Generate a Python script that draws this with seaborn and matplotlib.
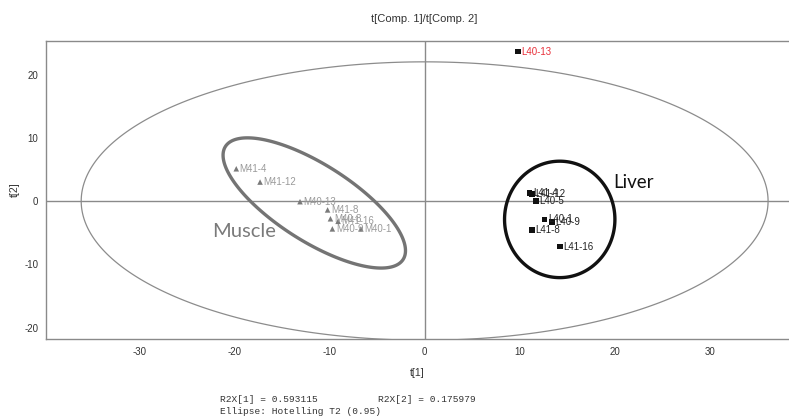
import numpy as np
import pandas as pd
import matplotlib
matplotlib.use("Agg")
import matplotlib.pyplot as plt
from matplotlib.ticker import MultipleLocator
from matplotlib.patches import Polygon
import seaborn as sns

# Score values t[1], t[2] per sample
muscle_ids = ["M41-4", "M41-12", "M40-13", "M41-8", "M40-8", "M41-16", "M40-9", "M40-1"]
muscle_t1 = [-19.8, -17.3, -13.1, -10.2, -9.9, -9.1, -9.7, -6.7]
muscle_t2 = [5.1, 3.0, -0.1, -1.4, -2.8, -3.2, -4.4, -4.4]

liver_ids = ["L41-4", "L41-12", "L40-5", "L40-1", "L40-9", "L41-8", "L41-16", "L40-13"]
liver_t1 = [11.0, 11.3, 11.7, 12.6, 13.4, 11.3, 14.2, 9.8]
liver_t2 = [1.3, 1.1, 0.0, -2.9, -3.3, -4.6, -7.2, 23.6]

outlier_id = "L40-13"

r2x = [0.593115, 0.175979]
hotelling_level = 0.95
hotelling_axes = (36.1, 22.0)

# Group outlines: centre and two half-axis vectors in score units
muscle_centre = (-11.6, -0.3)
muscle_u = (9.35, -8.9)
muscle_v = (-2.12, -5.16)
liver_centre = (14.2, -2.9)
liver_u = (5.8, 0.0)
liver_v = (0.0, 9.2)

df = pd.DataFrame({
    "id": muscle_ids + liver_ids,
    "t1": muscle_t1 + liver_t1,
    "t2": muscle_t2 + liver_t2,
    "tissue": ["Muscle"] * len(muscle_ids) + ["Liver"] * len(liver_ids),
})

sns.set_style("white")
plt.rcParams["font.family"] = ["Liberation Sans", "DejaVu Sans"]
plt.rcParams["axes.unicode_minus"] = False

fig = plt.figure(figsize=(7.89, 4.18), dpi=100)
ax = fig.add_axes([0.0583, 0.189, 0.9417, 0.713])

axis_grey = "#8a8a8a"

def outline(centre, u, v, color, lw, n=400):
    phi = np.linspace(0, 2 * np.pi, n, endpoint=False)
    x = centre[0] + np.cos(phi) * u[0] + np.sin(phi) * v[0]
    y = centre[1] + np.cos(phi) * u[1] + np.sin(phi) * v[1]
    ax.add_patch(Polygon(np.column_stack([x, y]), closed=True, fill=False,
                         edgecolor=color, lw=lw, zorder=2))

# zero lines
ax.axhline(0, color=axis_grey, lw=1.0, zorder=1)
ax.axvline(0, color=axis_grey, lw=1.0, zorder=1)

# Hotelling T2 ellipse
outline((0, 0), (hotelling_axes[0], 0), (0, hotelling_axes[1]), "#8c8c8c", 0.9)

# group outlines
outline(muscle_centre, muscle_u, muscle_v, "#747474", 2.4)
outline(liver_centre, liver_u, liver_v, "#111111", 2.4)

sns.scatterplot(data=df, x="t1", y="t2", hue="tissue", style="tissue",
                markers={"Muscle": "^", "Liver": "s"},
                palette={"Muscle": "#7a7a7a", "Liver": "#111111"},
                s=16, edgecolor="none", legend=False, ax=ax, zorder=4)

for _, r in df.iterrows():
    if r["id"] == outlier_id:
        col = "#e8303a"
    elif r["tissue"] == "Muscle":
        col = "#9a9a9a"
    else:
        col = "#222222"
    ax.annotate(r["id"], (r["t1"], r["t2"]), xytext=(2.5, 0), textcoords="offset points",
                ha="left", va="center", fontsize=7, color=col, zorder=5)

ax.text(-22.3, -4.8, "Muscle", fontsize=14.5, color="#7a7a7a", family=["Lato", "DejaVu Sans"],
        ha="left", va="center")
ax.text(19.8, 3.0, "Liver", fontsize=13.5, color="#111111", family=["Lato", "DejaVu Sans"],
        ha="left", va="center")

ax.set_xlim(-39.8, 38.3)
ax.set_ylim(-21.8, 25.3)
ax.xaxis.set_major_locator(MultipleLocator(10))
ax.xaxis.set_minor_locator(MultipleLocator(5))
ax.yaxis.set_major_locator(MultipleLocator(10))
ax.yaxis.set_minor_locator(MultipleLocator(5))
ax.tick_params(which="both", direction="inout", length=5, width=0.9, color=axis_grey,
               labelsize=7, labelcolor="#333333", pad=3)
for side in ["left", "bottom", "top"]:
    ax.spines[side].set_color(axis_grey)
    ax.spines[side].set_linewidth(1.0)
ax.spines["right"].set_visible(False)

ax.set_xlabel("t[1]", fontsize=7.5, color="#333333", labelpad=8)
ax.set_ylabel("t[2]", fontsize=7.5, color="#333333", labelpad=3)
fig.text(0.537, 0.955, "t[Comp. 1]/t[Comp. 2]", fontsize=8, color="#333333",
         ha="center", va="center")

mono = ["Liberation Mono", "DejaVu Sans Mono"]
fig.text(220 / 789, 1 - 400 / 418, f"R2X[1] = {r2x[0]:.6f}", fontsize=6.8, family=mono,
         color="#333333", va="center")
fig.text(378 / 789, 1 - 400 / 418, f"R2X[2] = {r2x[1]:.6f}", fontsize=6.8, family=mono,
         color="#333333", va="center")
fig.text(220 / 789, 1 - 411 / 418, f"Ellipse: Hotelling T2 ({hotelling_level:.2f})", fontsize=6.8,
         family=mono, color="#333333", va="center")

fig.savefig("out.png", dpi=100)
